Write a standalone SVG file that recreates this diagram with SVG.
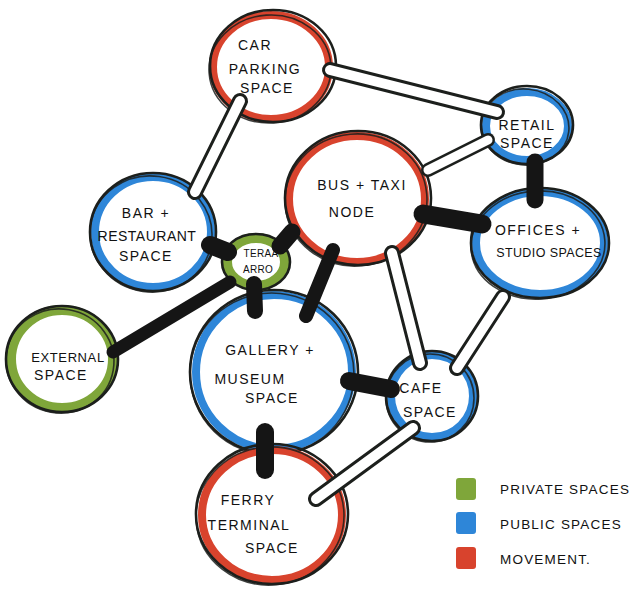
<svg xmlns="http://www.w3.org/2000/svg" width="640" height="595" viewBox="0 0 640 595">
<style>
.bg{fill:#ffffff}
.red{fill:#ffffff;stroke:#d8432d;stroke-width:8}
.blue{fill:#ffffff;stroke:#2e86d8;stroke-width:8}
.green{fill:#ffffff;stroke:#7fa63a;stroke-width:10}
.ol{fill:none;stroke:#1c1f1c;stroke-width:2.6}
.ol2{fill:none;stroke:#1c1f1c;stroke-width:1.6;opacity:0.85}
.lbl{font-family:"Liberation Sans","DejaVu Sans",sans-serif;font-size:14px;fill:#111;text-anchor:middle;letter-spacing:1.5px}
.sm{font-size:10px;letter-spacing:0.3px}
.leg{font-family:"Liberation Sans","DejaVu Sans",sans-serif;font-size:13.5px;fill:#111;letter-spacing:1.2px}
.dbo{stroke:#1c1f1c;stroke-width:16;stroke-linecap:round;fill:none}
.dbi{stroke:#ffffff;stroke-width:10;stroke-linecap:round;fill:none}
.bar{stroke:#151515;stroke-width:17;stroke-linecap:round;fill:none}
</style>
<rect class="bg" x="0" y="0" width="640" height="595"/>

<g id="nodes">
<g id="car-parking">
<ellipse class="red" cx="271" cy="67" rx="58" ry="52"/>
<ellipse class="ol" cx="273" cy="66" rx="63" ry="56"/>
<ellipse class="ol2" cx="270" cy="69" rx="61" ry="54" transform="rotate(-4 270 69)"/>
<text class="lbl" x="255" y="50">CAR</text>
<text class="lbl" x="265" y="74">PARKING</text>
<text class="lbl" x="267" y="93">SPACE</text>
</g>
<g id="retail">
<ellipse class="blue" cx="527" cy="126" rx="41" ry="34"/>
<ellipse class="ol" cx="527" cy="125" rx="46" ry="39"/>
<ellipse class="ol2" cx="525" cy="127" rx="44" ry="38" transform="rotate(6 525 127)"/>
<text class="lbl" x="527" y="130">RETAIL</text>
<text class="lbl" x="527" y="148">SPACE</text>
</g>
<g id="bus-taxi">
<ellipse class="red" cx="357" cy="199" rx="68" ry="63"/>
<ellipse class="ol" cx="358" cy="198" rx="73" ry="67"/>
<ellipse class="ol2" cx="356" cy="200" rx="71" ry="66" transform="rotate(-5 356 200)"/>
<text class="lbl" x="362" y="190">BUS + TAXI</text>
<text class="lbl" x="352" y="217">NODE</text>
</g>
<g id="bar-restaurant">
<ellipse class="blue" cx="153" cy="232" rx="58" ry="55"/>
<ellipse class="ol" cx="153" cy="232" rx="63" ry="59"/>
<ellipse class="ol2" cx="151" cy="234" rx="61" ry="58" transform="rotate(8 151 234)"/>
<text class="lbl" x="146" y="218">BAR  +</text>
<text class="lbl" x="147" y="241" style="letter-spacing:0.5px">RESTAURANT</text>
<text class="lbl" x="146" y="261">SPACE</text>
</g>
<g id="offices-studio">
<ellipse class="blue" cx="540" cy="243" rx="64" ry="51"/>
<ellipse class="ol" cx="540" cy="243" rx="69" ry="55"/>
<ellipse class="ol2" cx="538" cy="245" rx="67" ry="54" transform="rotate(-4 538 245)"/>
<text class="lbl" x="538" y="235">OFFICES  +</text>
<text class="lbl" x="549" y="257" style="font-size:12.5px;letter-spacing:0.4px">STUDIO SPACES</text>
</g>
<g id="external">
<ellipse class="green" cx="62" cy="359" rx="51" ry="49"/>
<ellipse class="ol" cx="62" cy="359" rx="56" ry="53"/>
<ellipse class="ol2" cx="60" cy="361" rx="54" ry="52" transform="rotate(10 60 361)"/>
<text class="lbl" x="68" y="362" style="font-size:13px;letter-spacing:0.6px">EXTERNAL</text>
<text class="lbl" x="61" y="380">SPACE</text>
</g>
<g id="gallery-museum">
<ellipse class="blue" cx="274" cy="372" rx="78" ry="77"/>
<ellipse class="ol" cx="274" cy="372" rx="84" ry="82"/>
<ellipse class="ol2" cx="272" cy="374" rx="82" ry="81" transform="rotate(6 272 374)"/>
<text class="lbl" x="270" y="355">GALLERY  +</text>
<text class="lbl" x="250" y="384">MUSEUM</text>
<text class="lbl" x="272" y="403">SPACE</text>
</g>
<g id="cafe">
<ellipse class="blue" cx="432" cy="396" rx="41" ry="41"/>
<ellipse class="ol" cx="432" cy="396" rx="46" ry="45"/>
<ellipse class="ol2" cx="430" cy="398" rx="44" ry="44"/>
<text class="lbl" x="421" y="393">CAFE</text>
<text class="lbl" x="430" y="417">SPACE</text>
</g>
<g id="ferry-terminal">
<ellipse class="red" cx="272" cy="515" rx="70" ry="65"/>
<ellipse class="ol" cx="272" cy="514" rx="76" ry="70"/>
<ellipse class="ol2" cx="270" cy="516" rx="74" ry="69" transform="rotate(-5 270 516)"/>
<text class="lbl" x="248" y="505">FERRY</text>
<text class="lbl" x="249" y="530">TERMINAL</text>
<text class="lbl" x="272" y="553">SPACE</text>
</g>
<g id="terra-arro">
<ellipse class="green" cx="256" cy="262" rx="29" ry="24"/>
<ellipse class="ol" cx="256" cy="262" rx="34" ry="28"/>
<text class="lbl sm" x="261" y="257">TERAA</text>
<text class="lbl sm" x="258" y="273">ARRO</text>
</g>
</g>

<g id="connectors">
<line class="dbo" x1="330" y1="70" x2="497" y2="112"/>
<line class="dbi" x1="330" y1="70" x2="497" y2="112"/>
<line class="dbo" x1="240" y1="101" x2="195" y2="192"/>
<line class="dbi" x1="240" y1="101" x2="195" y2="192"/>
<line class="dbo" x1="428" y1="170" x2="488" y2="140" style="stroke-width:14"/>
<line class="dbi" x1="428" y1="170" x2="488" y2="140" style="stroke-width:9"/>
<line class="dbo" x1="392" y1="253" x2="420" y2="363"/>
<line class="dbi" x1="392" y1="253" x2="420" y2="363"/>
<line class="dbo" x1="503" y1="297" x2="457" y2="368"/>
<line class="dbi" x1="503" y1="297" x2="457" y2="368"/>
<line class="dbo" x1="413" y1="428" x2="316" y2="499"/>
<line class="dbi" x1="413" y1="428" x2="316" y2="499"/>
<line class="bar" x1="535" y1="162" x2="535" y2="200"/>
<line class="bar" x1="423" y1="214" x2="482" y2="224" style="stroke-width:19"/>
<line class="bar" x1="292" y1="232" x2="280" y2="246"/>
<line class="bar" x1="333" y1="250" x2="306" y2="316" style="stroke-width:14"/>
<line class="bar" x1="210" y1="245" x2="228" y2="252" style="stroke-width:18"/>
<line class="bar" x1="230" y1="282" x2="113" y2="352" style="stroke-width:13"/>
<line class="bar" x1="254" y1="284" x2="255" y2="311" style="stroke-width:16"/>
<line class="bar" x1="349" y1="381" x2="391" y2="389" style="stroke-width:18"/>
<line class="bar" x1="265" y1="432" x2="265" y2="470" style="stroke-width:18"/>
</g>

<g id="legend">
<rect x="456" y="478" width="20" height="22" rx="3" fill="#7fa63a"/>
<rect x="456" y="512" width="20" height="22" rx="3" fill="#2e86d8"/>
<rect x="456" y="547" width="20" height="22" rx="3" fill="#d8432d"/>
<text class="leg" x="500" y="494">PRIVATE SPACES</text>
<text class="leg" x="500" y="529">PUBLIC SPACES</text>
<text class="leg" x="500" y="564">MOVEMENT.</text>
</g>
</svg>
